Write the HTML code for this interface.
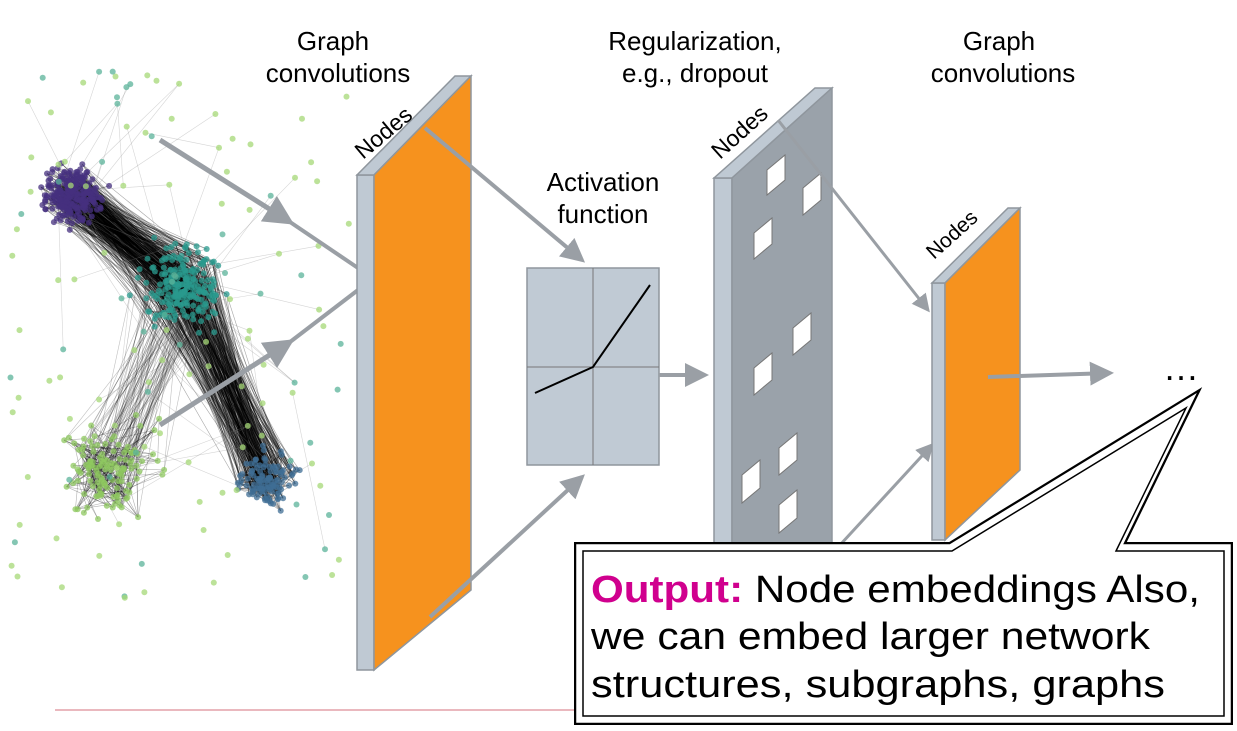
<!DOCTYPE html>
<html><head><meta charset="utf-8"><style>
html,body{margin:0;padding:0;background:#fff;}
svg{display:block;font-family:"Liberation Sans",Arial,sans-serif;}
</style></head><body>
<svg id="s" width="1237" height="731" viewBox="0 0 1237 731" xmlns="http://www.w3.org/2000/svg">
<defs>
<marker id="ah" markerWidth="6" markerHeight="6" refX="5" refY="3" orient="auto" markerUnits="strokeWidth">
<path d="M0,0 L6,3 L0,6 Z" fill="#9a9fa5"/></marker>
</defs>
<g id="graph"></g>
<line x1="55" y1="710" x2="580" y2="710" stroke="#e3a0a8" stroke-width="1.5"/>

<line x1="160" y1="140" x2="290" y2="222" stroke="#9a9fa5" stroke-width="5" marker-end="url(#ah)"/>
<line x1="290" y1="222" x2="358" y2="268" stroke="#9a9fa5" stroke-width="4"/>
<line x1="160" y1="425" x2="290" y2="342" stroke="#9a9fa5" stroke-width="5" marker-end="url(#ah)"/>
<line x1="290" y1="342" x2="358" y2="290" stroke="#9a9fa5" stroke-width="4"/>

<g font-size="26" fill="#000" text-anchor="middle">
<text x="333" y="50">Graph</text><text x="338" y="82">convolutions</text>
<text x="695" y="50">Regularization,</text><text x="695" y="82">e.g., dropout</text>
<text x="603" y="191">Activation</text><text x="603" y="223">function</text>
<text x="999" y="50">Graph</text><text x="1003" y="82">convolutions</text>
</g>

<polygon points="357,175 374,175 374,670 357,670" fill="#bfc9d3" stroke="#8f969d" stroke-width="1.5"/>
<polygon points="357,175 374,175 471,76 455,76" fill="#bfc9d3" stroke="#8f969d" stroke-width="1.5"/>
<polygon points="374,175 471,76 471,590 374,670" fill="#f6921e" stroke="#8f969d" stroke-width="1.5"/>
<text font-size="23" transform="translate(363,160) rotate(-40)">Nodes</text>

<line x1="425" y1="128" x2="582" y2="260" stroke="#9a9fa5" stroke-width="4" marker-end="url(#ah)"/>
<line x1="430" y1="617" x2="582" y2="477" stroke="#9a9fa5" stroke-width="4" marker-end="url(#ah)"/>

<rect x="527" y="268" width="132" height="197" fill="#c0cad4" stroke="#8f969d" stroke-width="1.5"/>
<line x1="593" y1="268" x2="593" y2="465" stroke="#777" stroke-width="1"/>
<line x1="527" y1="367" x2="659" y2="367" stroke="#777" stroke-width="1"/>
<polyline points="535,393 593,367 650,285" fill="none" stroke="#000" stroke-width="2"/>
<line x1="659" y1="375" x2="705" y2="375" stroke="#9a9fa5" stroke-width="4" marker-end="url(#ah)"/>

<polygon points="714,178 732,178 732,560 714,560" fill="#bfc9d3" stroke="#8f969d" stroke-width="1.5"/>
<polygon points="714,178 732,178 832,88 815,88" fill="#bfc9d3" stroke="#8f969d" stroke-width="1.5"/>
<polygon points="732,178 832,88 832,560 732,560" fill="#9aa2aa" stroke="#8f969d" stroke-width="1.5"/>
<text font-size="23" transform="translate(720,160) rotate(-42)">Nodes</text>
<g fill="#fff" stroke="#777" stroke-width="1">
<polygon points="767,170 785,155 785,180 767,195"/>
<polygon points="803,188 821,173 821,200 803,215"/>
<polygon points="754,233 772,218 772,244 754,259"/>
<polygon points="793,328 811,313 811,340 793,355"/>
<polygon points="754,368 772,353 772,380 754,395"/>
<polygon points="742,475 760,460 760,488 742,503"/>
<polygon points="779,448 797,433 797,460 779,475"/>
<polygon points="779,505 797,490 797,518 779,533"/>
</g>
<line x1="778" y1="120" x2="928" y2="310" stroke="#9a9fa5" stroke-width="3" marker-end="url(#ah)"/>
<line x1="840" y1="545" x2="932" y2="445" stroke="#9a9fa5" stroke-width="3" marker-end="url(#ah)"/>

<polygon points="932,283 945,283 945,540 932,540" fill="#bfc9d3" stroke="#8f969d" stroke-width="1.5"/>
<polygon points="932,283 945,283 1020,208 1008,208" fill="#bfc9d3" stroke="#8f969d" stroke-width="1.5"/>
<polygon points="945,283 1020,208 1020,470 945,540" fill="#f6921e" stroke="#8f969d" stroke-width="1.5"/>
<text font-size="21" transform="translate(934,260) rotate(-42)">Nodes</text>
<line x1="988" y1="377" x2="1110" y2="373" stroke="#9a9fa5" stroke-width="4" marker-end="url(#ah)"/>
<text x="1163" y="380" font-size="36">…</text>

<path d="M577,545 L950,545 L1195,395 L1122,545 L1230,545 L1230,722 L577,722 Z" fill="#fff" stroke="#000" stroke-width="6"/>
<path d="M577,545 L950,545 L1195,395 L1122,545 L1230,545 L1230,722 L577,722 Z" fill="#fff" stroke="#fff" stroke-width="1.5"/>
<path d="M583,551 L952,551 L1186,408 L1116,551 L1224,551 L1224,716 L583,716 Z" fill="#fff" stroke="#000" stroke-width="1.5"/>
<g font-size="38" fill="#000">
<text x="591" y="602" textLength="609" lengthAdjust="spacingAndGlyphs"><tspan fill="#d0008e" font-weight="bold">Output:</tspan> Node embeddings Also,</text>
<text x="591" y="649" textLength="559" lengthAdjust="spacingAndGlyphs">we can embed larger network</text>
<text x="591" y="697" textLength="574" lengthAdjust="spacingAndGlyphs">structures,  subgraphs, graphs</text>
</g>
</svg>
<script>
(function(){
var s=12345;function r(){s=(s*16807)%2147483647;return s/2147483647;}
function g(){return (r()+r()+r()+r()-2)/2;}
var G=document.getElementById("graph");
var C=[{x:72,y:195,r:30,n:260,c:"#46307f"},{x:182,y:285,r:42,n:220,c:"#2a9a8e"},{x:110,y:470,r:50,n:130,c:"#8fc860"},{x:265,y:482,r:28,n:110,c:"#3f6e94"}];
var cl=[[],[],[],[]];var nodes=[];
C.forEach(function(c,i){for(var k=0;k<c.n;k++){var n={x:c.x+g()*c.r*1.5,y:c.y+g()*c.r*1.5,c:c.c,k:i};nodes.push(n);cl[i].push(n);}});
for(var k=0;k<130;k++){var n={x:10+r()*340,y:70+r()*530,c:r()<0.65?"#a6d877":"#5bb39a",k:-1};nodes.push(n);}
function pick(a){return a[Math.floor(r()*a.length)];}
var h="";
function L(a,b,col,op){h+='<line x1="'+a.x.toFixed(1)+'" y1="'+a.y.toFixed(1)+'" x2="'+b.x.toFixed(1)+'" y2="'+b.y.toFixed(1)+'" stroke="'+col+'" stroke-opacity="'+op+'" stroke-width="0.6"/>';}
for(var k=0;k<500;k++)L(pick(cl[0]),pick(cl[1]),"#000",0.35);
for(var k=0;k<350;k++)L(pick(cl[1]),pick(cl[3]),"#000",0.35);
for(var k=0;k<90;k++)L(pick(cl[1]),pick(cl[2]),"#000",0.25);
for(var i=0;i<4;i++)for(var k=0;k<300;k++)L(pick(cl[i]),pick(cl[i]),"#000",0.3);
for(var k=0;k<700;k++){var a=pick(nodes),b=pick(nodes);if(a.k>=0&&b.k>=0)continue;if(Math.hypot(a.x-b.x,a.y-b.y)>170)continue;L(a,b,"#888",0.35);}
nodes.forEach(function(n){h+='<circle cx="'+n.x.toFixed(1)+'" cy="'+n.y.toFixed(1)+'" r="3" fill="'+n.c+'" fill-opacity="0.75"/>';});
G.innerHTML=h;
})();
</script>
</body></html>
